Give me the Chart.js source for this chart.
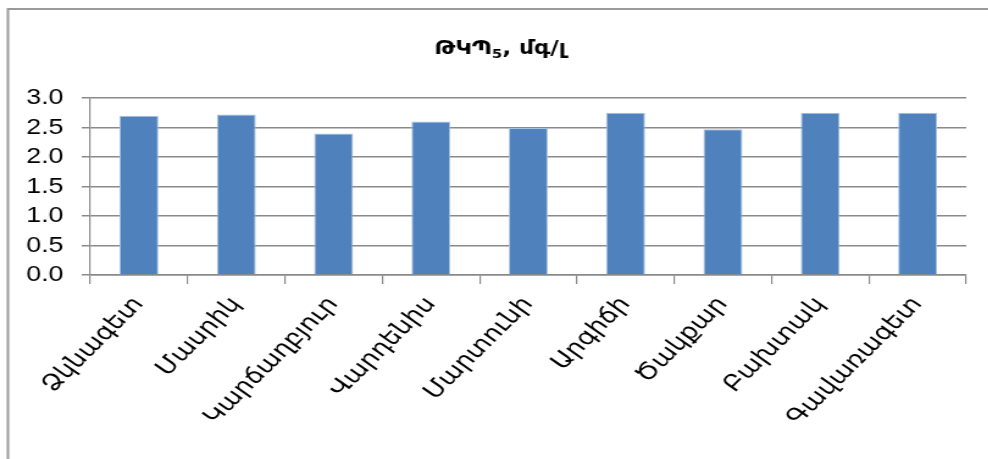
<!DOCTYPE html>
<html>
<head>
<meta charset="utf-8">
<script src="https://cdn.jsdelivr.net/npm/chart.js@4"></script>
<style>
  html, body { margin: 0; padding: 0; background: #fff; overflow: hidden; }
  /* the chart is laid out narrower and widened, so its lettering comes out broad */
  #wrap { width: 810px; height: 459px; transform: scaleX(1.22); transform-origin: 0 0; }
</style>
</head>
<body>
<div id="wrap"><canvas id="c" width="810" height="459"></canvas></div>
<script>
// BOD5 by monitoring site, mg/l
const stations = ['Ձկնագետ', 'Մասրիկ', 'Կարճաղբյուր', 'Վարդենիս', 'Մարտունի', 'Արգիճի', 'Ծակքար', 'Բախտակ', 'Գավառագետ'];
const bodValues = [2.70, 2.72, 2.40, 2.60, 2.49, 2.75, 2.47, 2.75, 2.75];
const yTicks = [0, 0.5, 1.0, 1.5, 2.0, 2.5, 3.0];
const titleMain = 'ԹԿՊ';
const titleSub = '5';
const titleTail = ', մգ/լ';

const GRID = '#8a8a8a';
const ARM_FONT = '"DejaVu Sans", "Noto Sans", sans-serif';

// Outer frame (left and top edges) and title with a subscript
const framePlugin = {
  id: 'frameAndTitle',
  beforeDraw(chart) {
    const ctx = chart.ctx;
    ctx.save();
    ctx.strokeStyle = '#9a9a9a';
    ctx.lineWidth = 2;
    ctx.beginPath();
    ctx.moveTo(6.5, 459);
    ctx.lineTo(6.5, 9);
    ctx.lineTo(810, 9);
    ctx.stroke();
    ctx.restore();
  },
  afterDraw(chart) {
    const ctx = chart.ctx;
    ctx.save();
    ctx.fillStyle = '#000';
    ctx.textBaseline = 'alphabetic';
    const big = 'bold 19px ' + ARM_FONT;
    const small = 'bold 12px ' + ARM_FONT;
    ctx.font = big;
    const w1 = ctx.measureText(titleMain).width;
    const w3 = ctx.measureText(titleTail).width;
    ctx.font = small;
    const w2 = ctx.measureText(titleSub).width;
    const total = w1 + w2 + w3;
    let x = 410 - total / 2;
    const base = 54;
    ctx.font = big;
    ctx.fillText(titleMain, x, base);
    x += w1;
    ctx.font = small;
    ctx.fillText(titleSub, x, base + 4);
    x += w2;
    ctx.font = big;
    ctx.fillText(titleTail, x, base);
    ctx.restore();
  }
};

new Chart(document.getElementById('c'), {
  type: 'bar',
  data: {
    labels: stations,
    datasets: [{
      data: bodValues,
      backgroundColor: '#4f81bd',
      borderColor: '#a9c1e0',
      borderWidth: 1,
      barPercentage: 0.4,
      categoryPercentage: 1.0
    }]
  },
  options: {
    responsive: false,
    animation: false,
    devicePixelRatio: 1,
    layout: { padding: { top: 98, right: 18, bottom: 0, left: 0 } },
    plugins: {
      legend: { display: false },
      title: { display: false },
      tooltip: { enabled: false }
    },
    scales: {
      x: {
        offset: true,
        grid: {
          display: true,
          offset: true,
          drawOnChartArea: false,
          drawTicks: true,
          tickLength: 9,
          color: GRID,
          lineWidth: 1.2
        },
        border: { display: true, color: GRID, width: 1.5 },
        ticks: {
          color: '#000',
          font: { family: ARM_FONT, size: 22 },
          minRotation: 50,
          maxRotation: 50,
          autoSkip: false,
          padding: 8
        },
        afterFit(scale) {
          scale.height = 184;
          scale.paddingLeft = 0;
          scale.paddingRight = 0;
        }
      },
      y: {
        min: 0,
        max: 3,
        afterBuildTicks(scale) {
          scale.ticks = yTicks.map(v => ({ value: v }));
        },
        grid: {
          color: GRID,
          lineWidth: 1.5,
          drawTicks: true,
          tickLength: 7
        },
        border: { display: true, color: GRID, width: 1.2 },
        ticks: {
          color: '#000',
          font: { family: '"Liberation Sans", Arial, sans-serif', size: 22 },
          padding: 15,
          callback: v => Number(v).toFixed(1)
        },
        afterFit(scale) {
          scale.width = 74;
          scale.paddingTop = 0;
          scale.paddingBottom = 0;
        }
      }
    }
  },
  plugins: [framePlugin]
});
</script>
</body>
</html>
